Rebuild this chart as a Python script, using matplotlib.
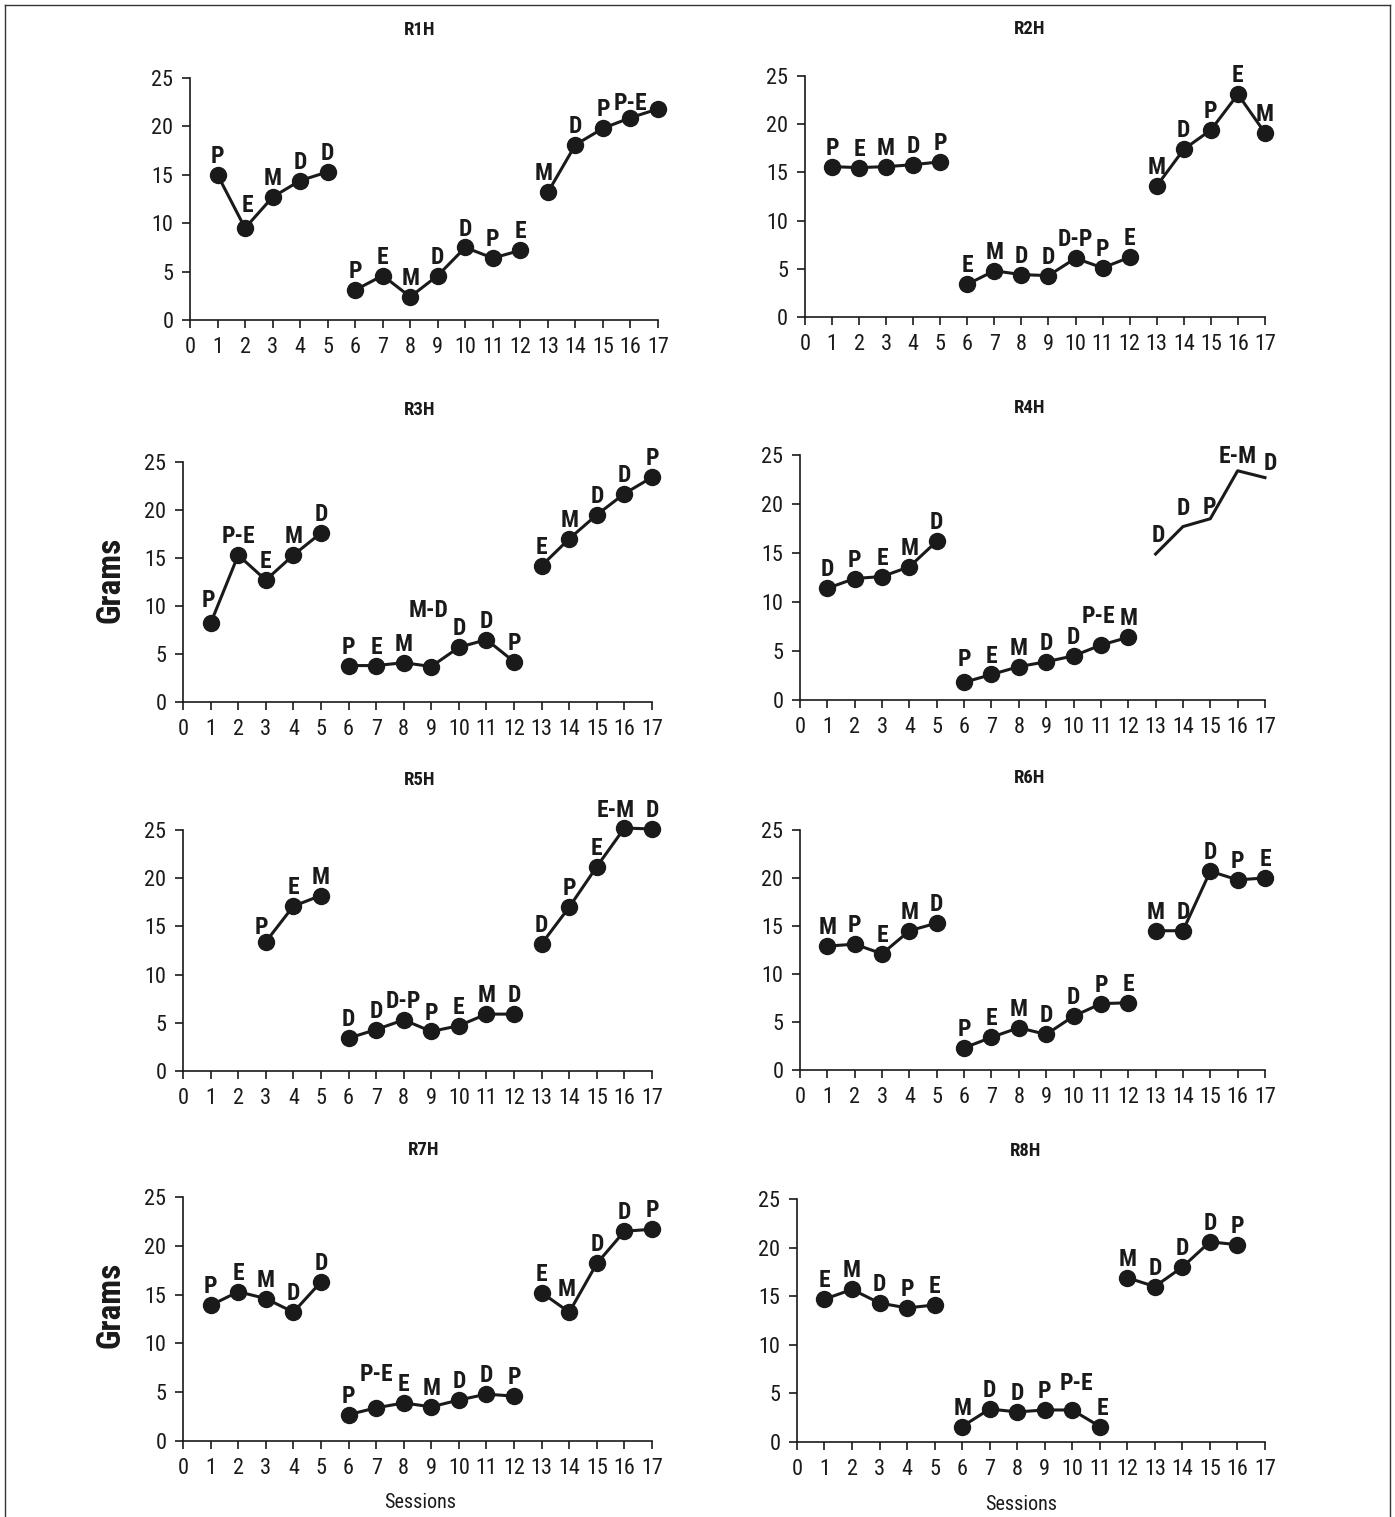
import matplotlib
matplotlib.use("Agg")
import matplotlib.pyplot as plt
from matplotlib import font_manager
from matplotlib.lines import Line2D

# pick a narrow font if there is one
names = set(f.name for f in font_manager.fontManager.ttflist)
fam = "DejaVu Sans"
for n in ["Liberation Sans Narrow", "DejaVu Sans Condensed", "Roboto Condensed", "Liberation Sans"]:
    if n in names:
        fam = n
        break
plt.rcParams["font.family"] = [fam, "DejaVu Sans"]

titles = ["R1H", "R2H", "R3H", "R4H", "R5H", "R6H", "R7H", "R8H"]

# each panel: list of segments (sessions, grams, labels)
r1h = [
    ([1, 2, 3, 4, 5], [15.0, 9.5, 12.7, 14.4, 15.3], ["P", "E", "M", "D", "D"]),
    ([6, 7, 8, 9, 10, 11, 12], [3.1, 4.6, 2.4, 4.6, 7.5, 6.4, 7.2], ["P", "E", "M", "D", "D", "P", "E"]),
    ([13, 14, 15, 16, 17], [13.2, 18.1, 19.8, 20.9, 21.8], ["M", "D", "P", "P-E", ""]),
]
r2h = [
    ([1, 2, 3, 4, 5], [15.6, 15.5, 15.6, 15.8, 16.1], ["P", "E", "M", "D", "P"]),
    ([6, 7, 8, 9, 10, 11, 12], [3.4, 4.8, 4.4, 4.3, 6.1, 5.1, 6.2], ["E", "M", "D", "D", "D-P", "P", "E"]),
    ([13, 14, 15, 16, 17], [13.6, 17.4, 19.4, 23.1, 19.1], ["M", "D", "P", "E", "M"]),
]
r3h = [
    ([1, 2, 3, 4, 5], [8.2, 15.3, 12.7, 15.3, 17.6], ["P", "P-E", "E", "M", "D"]),
    ([6, 7, 8, 9, 10, 11, 12], [3.8, 3.8, 4.1, 3.7, 5.7, 6.5, 4.2], ["P", "E", "M", "M-D", "D", "D", "P"]),
    ([13, 14, 15, 16, 17], [14.2, 17.0, 19.5, 21.7, 23.4], ["E", "M", "D", "D", "P"]),
]
r4h = [
    ([1, 2, 3, 4, 5], [11.4, 12.4, 12.6, 13.6, 16.2], ["D", "P", "E", "M", "D"]),
    ([6, 7, 8, 9, 10, 11, 12], [1.8, 2.6, 3.4, 3.9, 4.5, 5.6, 6.4], ["P", "E", "M", "D", "D", "P-E", "M"]),
    ([13, 14, 15, 16, 17], [14.9, 17.7, 18.5, 23.4, 22.7], ["D", "D", "P", "E-M", "D"]),
]
r5h = [
    ([3, 4, 5], [13.4, 17.1, 18.2], ["P", "E", "M"]),
    ([6, 7, 8, 9, 10, 11, 12], [3.4, 4.3, 5.3, 4.1, 4.7, 5.9, 5.9], ["D", "D", "D-P", "P", "E", "M", "D"]),
    ([13, 14, 15, 16, 17], [13.2, 17.0, 21.2, 25.2, 25.1], ["D", "P", "E", "E-M", "D"]),
]
r6h = [
    ([1, 2, 3, 4, 5], [12.9, 13.1, 12.1, 14.5, 15.3], ["M", "P", "E", "M", "D"]),
    ([6, 7, 8, 9, 10, 11, 12], [2.3, 3.4, 4.4, 3.7, 5.6, 6.9, 7.0], ["P", "E", "M", "D", "D", "P", "E"]),
    ([13, 14, 15, 16, 17], [14.5, 14.5, 20.7, 19.8, 20.0], ["M", "D", "D", "P", "E"]),
]
r7h = [
    ([1, 2, 3, 4, 5], [13.9, 15.3, 14.6, 13.2, 16.3], ["P", "E", "M", "D", "D"]),
    ([6, 7, 8, 9, 10, 11, 12], [2.7, 3.4, 3.9, 3.5, 4.2, 4.8, 4.6], ["P", "P-E", "E", "M", "D", "D", "P"]),
    ([13, 14, 15, 16, 17], [15.2, 13.2, 18.2, 21.5, 21.7], ["E", "M", "D", "D", "P"]),
]
r8h = [
    ([1, 2, 3, 4, 5], [14.7, 15.7, 14.3, 13.8, 14.1], ["E", "M", "D", "P", "E"]),
    ([6, 7, 8, 9, 10, 11], [1.6, 3.4, 3.1, 3.3, 3.3, 1.6], ["M", "D", "D", "P", "P-E", "E"]),
    ([12, 13, 14, 15, 16], [16.9, 16.0, 18.0, 20.6, 20.3], ["M", "D", "D", "D", "P"]),
]
panels = [r1h, r2h, r3h, r4h, r5h, r6h, r7h, r8h]
no_markers = {3: [2]}  # R4H last segment drawn as plain line

# label offsets in points (panel index, session) -> (dx, dy)
offsets = {
    (0, 2): (1.5, 8), (0, 13): (-3, 5), (0, 16): (0, 2),
    (2, 1): (-1.5, 8), (2, 9): (-2, 32),
    (3, 6): (0, 8), (3, 11): (-1.5, 12), (3, 13): (2, 5), (3, 15): (-1, 0),
    (3, 16): (0, 2), (3, 17): (3.5, 2),
    (4, 3): (-3, 2), (4, 16): (-6, 4),
    (6, 7): (0, 16), (6, 14): (-2, 8),
    (7, 10): (3, 11), (7, 11): (2, 5),
}

# axes boxes [left, bottom, width, height] in figure fraction
boxes = [
    [0.1362, 0.789, 0.3355, 0.1596],
    [0.5770, 0.791, 0.3298, 0.1589],
    [0.1312, 0.5372, 0.3362, 0.1583],
    [0.5735, 0.5386, 0.3333, 0.1614],
    [0.1312, 0.2940, 0.3362, 0.1589],
    [0.5735, 0.2947, 0.3333, 0.1582],
    [0.1312, 0.0501, 0.3362, 0.1608],
    [0.5713, 0.0494, 0.3355, 0.1602],
]
title_pos = [(0.301, 0.980), (0.738, 0.981), (0.301, 0.730), (0.738, 0.731),
             (0.301, 0.486), (0.738, 0.487), (0.304, 0.242), (0.735, 0.241)]

fig = plt.figure(figsize=(13.95, 15.17), dpi=100)

for i, segs in enumerate(panels):
    ax = fig.add_axes(boxes[i])
    for j, (xs, ys, labs) in enumerate(segs):
        if j in no_markers.get(i, []):
            ax.plot(xs, ys, color="#1a1a1a", lw=2.2, clip_on=False)
        else:
            ax.plot(xs, ys, color="#1a1a1a", lw=2.2, marker="o", ms=11.5, clip_on=False)
        for x, y, t in zip(xs, ys, labs):
            if not t:
                continue
            dx, dy = offsets.get((i, x), (0, 5))
            ax.annotate(t, (x, y), xytext=(dx, dy), textcoords="offset points",
                        ha="center", va="bottom", fontsize=17, fontweight="bold",
                        color="#1a1a1a", annotation_clip=False)
    ax.set_xlim(0, 17)
    ax.set_ylim(0, 25)
    ax.set_xticks(range(0, 18))
    ax.set_yticks([0, 5, 10, 15, 20, 25])
    ax.tick_params(labelsize=16, length=6, width=1.2, colors="#1a1a1a", pad=6)
    for s in ["top", "right"]:
        ax.spines[s].set_visible(False)
    for s in ["left", "bottom"]:
        ax.spines[s].set_linewidth(1.2)
        ax.spines[s].set_color("#1a1a1a")
    fig.text(title_pos[i][0], title_pos[i][1], titles[i], ha="center", va="center",
             fontsize=13.5, fontweight="bold", color="#1a1a1a")

fig.text(0.079, 0.618, "Grams", rotation=90, ha="center", va="center",
         fontsize=24, fontweight="bold", color="#1a1a1a")
fig.text(0.079, 0.140, "Grams", rotation=90, ha="center", va="center",
         fontsize=24, fontweight="bold", color="#1a1a1a")
fig.text(0.301, 0.0095, "Sessions", ha="center", va="center", fontsize=14.5, color="#1a1a1a")
fig.text(0.732, 0.0085, "Sessions", ha="center", va="center", fontsize=14.5, color="#1a1a1a")

# frame around the whole figure
fl = 5 / 1395
fig.add_artist(Line2D([fl, fl], [-0.01, 1 - 5 / 1517], transform=fig.transFigure, color="#333333", lw=1))
fig.add_artist(Line2D([1 - fl, 1 - fl], [-0.01, 1 - 5 / 1517], transform=fig.transFigure, color="#333333", lw=1))
fig.add_artist(Line2D([fl, 1 - fl], [1 - 5 / 1517, 1 - 5 / 1517], transform=fig.transFigure, color="#333333", lw=1))

fig.savefig("out.png", dpi=100)
